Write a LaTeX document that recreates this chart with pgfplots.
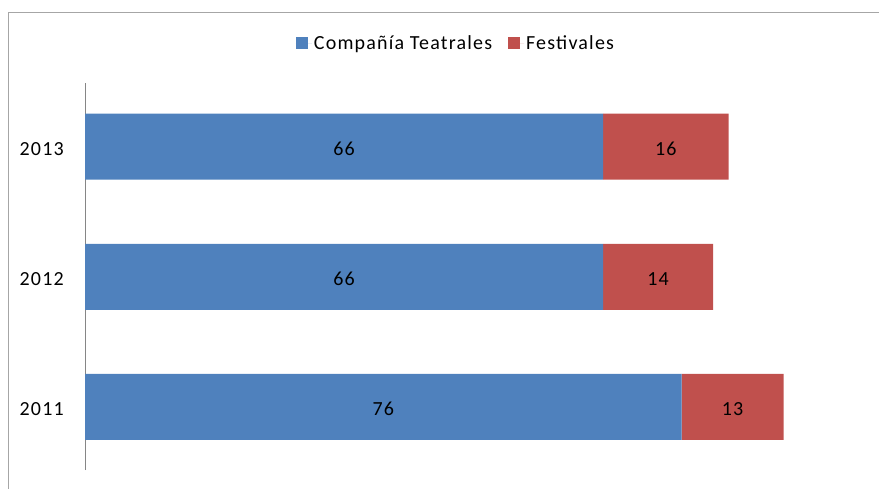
\documentclass[border=0pt]{standalone}
\usepackage{fontspec}
\setmainfont[LetterSpace=6]{Carlito}
\usepackage{pgfplots}
\pgfplotsset{compat=1.18}
\definecolor{bleu}{HTML}{4F81BD}
\definecolor{rouge}{HTML}{C0504D}
\definecolor{cadre}{HTML}{A6A6A6}
\definecolor{axe}{HTML}{868686}
\begin{document}
\begin{tikzpicture}[font=\fontsize{20}{24}\selectfont]
\useasboundingbox (0,0) rectangle (879pt,-488pt);
% cadre du graphique
\draw[cadre, line width=1pt] (8pt,-520pt) -- (8pt,-12pt) -- (920pt,-12pt);
\begin{axis}[
    at={(85pt,-470pt)}, anchor=south west,
    scale only axis, width=785pt, height=387pt,
    xbar stacked, bar width=66pt,
    xmin=0, xmax=100, ymin=-0.485, ymax=2.49,
    enlargelimits=false,
    axis x line=none, axis y line*=left,
    y axis line style={draw=axe, line width=1pt},
    ytick={0,1,2}, yticklabels={2011,2012,2013},
    major tick length=0pt,
    yticklabel style={anchor=east, inner sep=0pt, xshift=-21pt, yshift=-2pt},
    /pgf/number format/assume math mode=true,
    point meta=explicit,
    nodes near coords,
    every node near coord/.append style={anchor=center, yshift=-2pt, text=black},
    legend style={at={(0.4726,1.103)}, anchor=center, draw=none, fill=none,
        legend columns=2, /tikz/every even column/.append style={column sep=14pt}},
    legend image code/.code={\path (0pt,0pt) -- (16pt,0pt); \fill[#1] (0pt,-6pt) rectangle (12pt,6pt);},
]
\addplot[fill=bleu, draw=none] coordinates {(76,0) [76] (66,1) [66] (66,2) [66]};
\addplot[fill=rouge, draw=none] coordinates {(13,0) [13] (14,1) [14] (16,2) [16]};
\legend{Compañía Teatrales, Festivales}
\end{axis}
\end{tikzpicture}
\end{document}
